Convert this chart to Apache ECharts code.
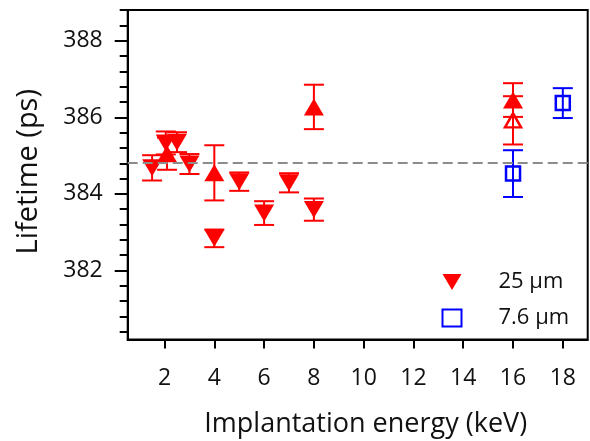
<!DOCTYPE html>
<html>
<head>
<meta charset="utf-8">
<script src="https://cdn.jsdelivr.net/npm/echarts@6/dist/echarts.min.js"></script>
<style>
  html, body { margin: 0; padding: 0; background: #fff; }
  #main { width: 590px; height: 441px; }
</style>
</head>
<body>
<div id="main"></div>
<script>
// 25 um 样品（实心下三角）
const downX = [1.5, 2.05, 2.5, 3, 4, 5, 6, 7, 8];
const downY = [384.68, 385.33, 385.35, 384.78, 382.84, 384.32, 383.5, 384.29, 383.59];
const downErr = [0.33, 0.3, 0.26, 0.26, 0.23, 0.24, 0.31, 0.25, 0.29];
// 25 um 样品（实心上三角）
const upX = [2.1, 4, 8, 16];
const upY = [385.05, 384.55, 386.27, 386.45];
const upErr = [0.42, 0.72, 0.58, 0.44];
// 25 um 样品（空心上三角）
const openUpX = [16];
const openUpY = [385.92];
const openUpErr = [0.63];
// 7.6 um 样品（空心方块）
const sqX = [16, 18];
const sqY = [384.53, 386.37];
const sqErr = [0.61, 0.39];
// 参考线
const refLine = 384.81;
// 刻度
const xTicks = [2, 4, 6, 8, 10, 12, 14, 16, 18];
const yMajorTicks = [382, 384, 386, 388];
const yMinorTicks = [380.4, 380.8, 381.2, 381.6, 382.4, 382.8, 383.2, 383.6, 384.4, 384.8, 385.2, 385.6,
  386.4, 386.8, 387.2, 387.6, 388.4, 388.8];

const RED = '#ff0000';
const BLUE = '#0000ff';
const FONT = 'Open Sans';

const pts = (xs, ys) => xs.map((x, i) => [x, ys[i]]);
const errs = (xs, ys, es) => xs.map((x, i) => [x, ys[i] - es[i], ys[i] + es[i]]);

// 误差棒
const errorBar = (name, data, color) => ({
  name: name,
  type: 'custom',
  data: data,
  z: 2,
  silent: true,
  renderItem(params, api) {
    const x = api.value(0);
    const lo = api.coord([x, api.value(1)]);
    const hi = api.coord([x, api.value(2)]);
    const w = 10;
    const style = { stroke: color, lineWidth: 2 };
    return {
      type: 'group',
      children: [
        { type: 'line', shape: { x1: lo[0], y1: lo[1], x2: hi[0], y2: hi[1] }, style },
        { type: 'line', shape: { x1: lo[0] - w, y1: lo[1], x2: lo[0] + w, y2: lo[1] }, style },
        { type: 'line', shape: { x1: hi[0] - w, y1: hi[1], x2: hi[0] + w, y2: hi[1] }, style },
      ],
    };
  },
});

const myChart = echarts.init(document.getElementById('main'));
const options = {
  animation: false,
  textStyle: { fontFamily: FONT },
  grid: {
    left: 127.7,
    right: 2.3,
    top: 10,
    bottom: 101.5,
    outerBoundsMode: 'none',
    show: true,
    borderColor: '#000',
    borderWidth: 2,
    backgroundColor: 'transparent',
  },
  legend: {
    orient: 'vertical',
    left: 440,
    top: 270,
    padding: 0,
    itemWidth: 19,
    itemHeight: 17,
    itemGap: 12,
    selectedMode: false,
    data: [
      { name: '25 μm', icon: 'path://M0,0 L20,0 L10,17 Z' },
      { name: '7.6 μm' },
    ],
    textStyle: { fontFamily: FONT, fontSize: 22, lineHeight: 24, color: '#111', padding: [0, 0, 0, 32] },
  },
  xAxis: {
    type: 'value',
    min: 0.52,
    max: 19,
    name: 'Implantation energy (keV)',
    nameLocation: 'middle',
    nameGap: 71,
    nameTextStyle: { fontFamily: FONT, fontSize: 27, color: '#111', padding: [0, 0, 0, 16] },
    axisLine: { show: true, onZero: false, lineStyle: { color: '#000', width: 2 } },
    axisTick: { show: true, length: 9, customValues: xTicks, lineStyle: { color: '#000', width: 2 } },
    axisLabel: { customValues: xTicks, margin: 27, fontSize: 23, color: '#111', fontFamily: FONT },
    splitLine: { show: false },
  },
  yAxis: [
    {
      type: 'value',
      min: 380.2,
      max: 388.8,
      name: 'Lifetime (ps)',
      nameLocation: 'middle',
      nameGap: 84,
      nameTextStyle: { fontFamily: FONT, fontSize: 29, color: '#111', padding: [0, 0, 0, 6] },
      axisLine: { show: true, onZero: false, lineStyle: { color: '#000', width: 2 } },
      axisTick: { show: true, length: 13, customValues: yMajorTicks, lineStyle: { color: '#000', width: 2 } },
      axisLabel: { customValues: yMajorTicks, margin: 25, fontSize: 23, color: '#111', fontFamily: FONT },
      splitLine: { show: false },
    },
    {
      // 次刻度
      type: 'value',
      position: 'left',
      min: 380.2,
      max: 388.8,
      axisLine: { show: false },
      axisTick: { show: true, length: 8, customValues: yMinorTicks, lineStyle: { color: '#000', width: 2 } },
      axisLabel: { show: false },
      splitLine: { show: false },
    },
  ],
  series: [
    errorBar('downErr', errs(downX, downY, downErr), RED),
    errorBar('upErr', errs(upX, upY, upErr), RED),
    errorBar('openUpErr', errs(openUpX, openUpY, openUpErr), RED),
    errorBar('sqErr', errs(sqX, sqY, sqErr), BLUE),
    {
      name: '25 μm',
      type: 'scatter',
      data: pts(downX, downY),
      symbol: 'path://M0,0 L20,0 L10,17 Z',
      symbolSize: [20, 17],
      itemStyle: { color: RED, opacity: 1 },
      z: 3,
      markLine: {
        silent: true,
        symbol: 'none',
        label: { show: false },
        lineStyle: { color: '#8c8c8c', width: 2, type: [10, 5] },
        data: [{ yAxis: refLine }],
      },
    },
    {
      name: 'up',
      type: 'scatter',
      data: pts(upX, upY),
      symbol: 'triangle',
      symbolSize: [20, 17],
      itemStyle: { color: RED, opacity: 1 },
      z: 3,
    },
    {
      name: 'openUp',
      type: 'scatter',
      data: pts(openUpX, openUpY),
      symbol: 'triangle',
      symbolSize: [16, 14],
      itemStyle: { color: 'none', borderColor: RED, borderWidth: 2.5, opacity: 1 },
      z: 3,
    },
    {
      name: '7.6 μm',
      type: 'scatter',
      data: pts(sqX, sqY),
      symbol: 'rect',
      symbolSize: 14,
      itemStyle: { color: 'none', borderColor: BLUE, borderWidth: 2.5, opacity: 1 },
      z: 3,
    },
  ],
};
myChart.setOption(options);
</script>
</body>
</html>
